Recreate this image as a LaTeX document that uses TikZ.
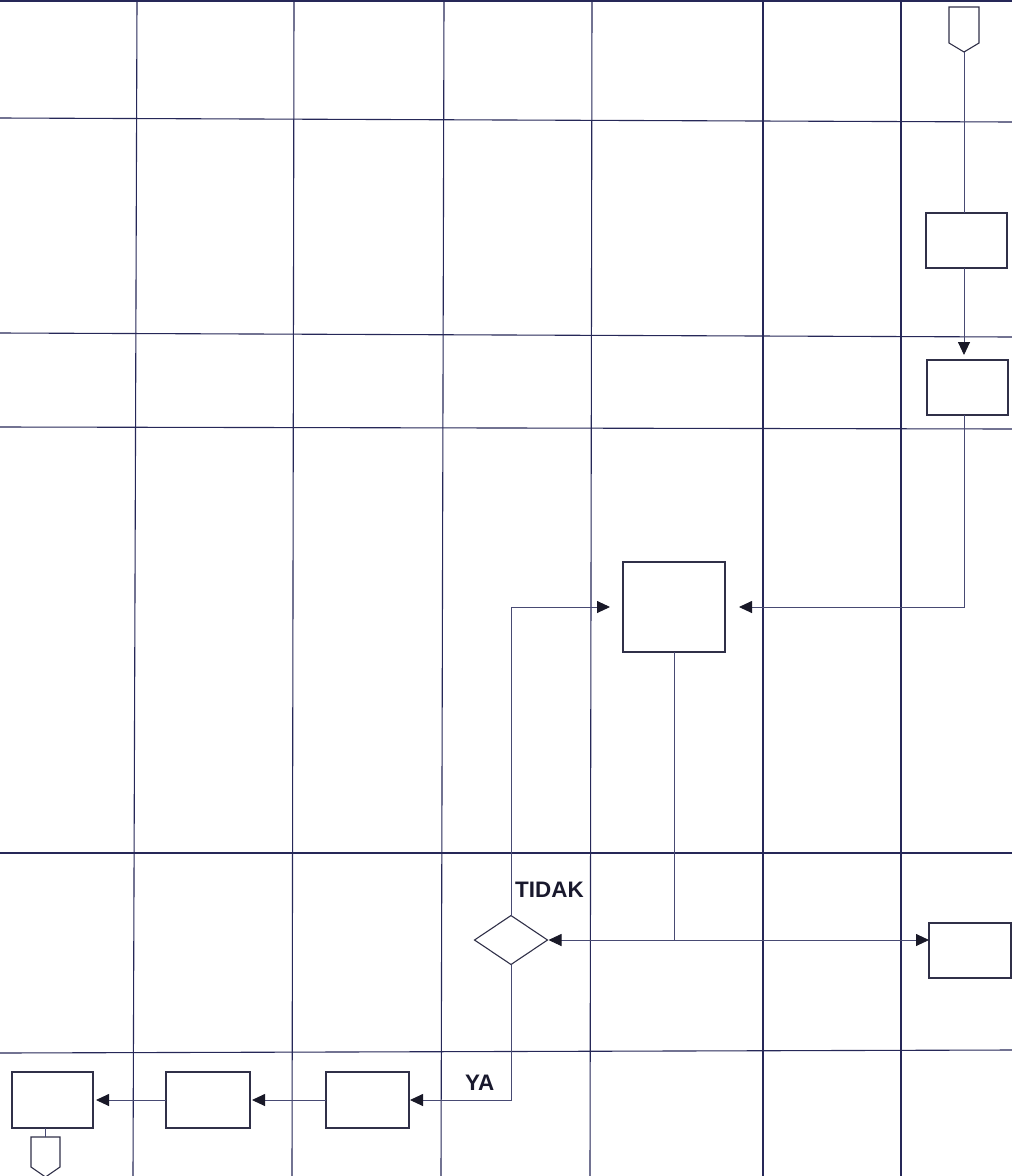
\documentclass[tikz,border=0pt]{standalone}
\usepackage{fontspec}
\setmainfont{Liberation Sans}
\usetikzlibrary{arrows.meta,shapes.geometric,calc}
\definecolor{gridc}{RGB}{38,40,88}
\definecolor{linec}{RGB}{72,74,115}
\definecolor{boxc}{RGB}{48,48,72}
\definecolor{txtc}{RGB}{25,25,45}
\definecolor{tipc}{RGB}{25,25,40}
\begin{document}
\begin{tikzpicture}[x=1bp,y=-1bp,
  gridline/.style={draw=gridc,line width=1.1bp},
  procbox/.style={draw=boxc,line width=1.1bp,rectangle,inner sep=0pt,outer sep=0pt},
  decbox/.style={draw=boxc,line width=1.1bp,diamond,inner sep=0pt,outer sep=0pt,minimum width=73bp,minimum height=49bp},
  conn/.style={draw=boxc,line width=1.1bp},
  flow/.style={draw=linec,line width=0.9bp},
  arr/.style={flow,-{Triangle[length=13bp,width=12bp,color=tipc,fill=tipc]}},
  lbl/.style={font=\bfseries\fontsize{22.5}{22.5}\selectfont,text=txtc,inner sep=0pt,anchor=base west},
]
\useasboundingbox (0,0) rectangle (1012,1176);
\clip (0,0) rectangle (1012,1176);

% grid
\draw[gridline] (0,1) -- (1012,1);
\draw[gridline] (0,118) -- (1012,122);
\draw[gridline] (0,333) -- (1012,337);
\draw[gridline] (0,427) -- (1012,429);
\draw[gridline] (0,853) -- (1012,853);
\draw[gridline] (0,1053) -- (1012,1050);
\draw[gridline] (137,0) -- (133,1176);
\draw[gridline] (294,0) -- (292,1176);
\draw[gridline] (444,0) -- (441,1176);
\draw[gridline] (592,0) -- (590,1176);
\draw[gridline] (763,0) -- (763,1176);
\draw[gridline] (901,0) -- (901,1176);

% off-page connectors
\draw[conn] (949,7) -- (979,7) -- (979,43) -- (964,52) -- (949,43) -- cycle;
\coordinate (conntop) at (964,52);
\draw[conn] (31,1137) -- (60,1137) -- (60,1167) -- (45.5,1177) -- (31,1167) -- cycle;
\coordinate (connbot) at (45.5,1137);

% nodes
\node[procbox,minimum width=81bp,minimum height=55bp] (b1) at (966.5,240.5) {};
\node[procbox,minimum width=81bp,minimum height=55bp] (b2) at (967.5,387.5) {};
\node[procbox,minimum width=102bp,minimum height=90bp] (big) at (674,607) {};
\node[procbox,minimum width=82bp,minimum height=55bp] (rbox) at (970,950.5) {};
\node[decbox] (dec) at (511,940) {};
\node[procbox,minimum width=83bp,minimum height=56bp] (bC) at (367.5,1100) {};
\node[procbox,minimum width=84bp,minimum height=56bp] (bB) at (208,1100) {};
\node[procbox,minimum width=81bp,minimum height=56bp] (bA) at (52.5,1100) {};

% labels
\node[lbl] (tidak) at (515,897) {TIDAK};
\node[lbl] (ya) at (465,1090) {YA};

% connectors
\coordinate (vx) at (964,0);
\draw[flow] (conntop) -- (conntop |- b1.north);
\draw[arr,shorten >=5bp] (vx |- b1.south) -- (vx |- b2.north);
\draw[arr,shorten >=14bp] (vx |- b2.south) |- (big.east);
\draw[arr,shorten >=13bp] (dec.north) |- (big.west);
\coordinate (junc) at (big.south |- dec.east);
\draw[flow] (big.south) -- (junc);
\draw[arr,shorten >=1bp] (junc) -- (dec.east);
\draw[arr] (junc) -- (junc -| rbox.west);
\draw[arr,shorten >=1bp] (dec.south) |- (bC.east);
\draw[arr,shorten >=2bp] (bC.west) -- (bB.east);
\draw[arr,shorten >=3bp] (bB.west) -- (bA.east);
\draw[flow] (connbot |- bA.south) -- (connbot);
\end{tikzpicture}
\end{document}
